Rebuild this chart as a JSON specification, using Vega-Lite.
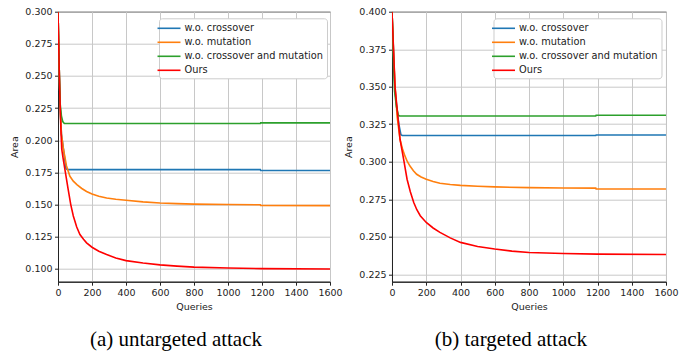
{
  "$schema": "https://vega.github.io/schema/vega-lite/v6.json",
  "padding": {"left": 9, "top": 5.7, "right": 5, "bottom": 0},
  "bounds": "flush",
  "spacing": 62,
  "config": {
    "font": "DejaVu Sans",
    "view": {"stroke": "#222", "strokeWidth": 1},
    "axis": {
      "labelFont": "DejaVu Sans", "labelFontSize": 9.5, "labelColor": "#222",
      "titleFont": "DejaVu Sans", "titleFontSize": 9.5, "titleFontWeight": "normal", "titleColor": "#222",
      "domainColor": "#222", "tickColor": "#222", "tickSize": 3.5,
      "gridColor": "#c8c8c8", "gridWidth": 1, "labelPadding": 2.5
    },
    "legend": {
      "labelFont": "DejaVu Sans", "labelFontSize": 9.8, "labelColor": "#222",
      "symbolType": "M-2,0H2", "symbolSize": 132, "symbolStrokeWidth": 1.6, "symbolFillColor": "transparent",
      "fillColor": "#ffffff", "strokeColor": "#cccccc", "cornerRadius": 3,
      "padding": 3, "rowPadding": 2, "labelOffset": 8.55, "titlePadding": 0
    },
    "title": {"font": "Liberation Serif", "fontSize": 21, "fontWeight": "normal", "color": "#000", "orient": "bottom", "anchor": "middle", "offset": 18, "frame": "bounds"}
  },
  "resolve": {"scale": {"color": "independent"}, "legend": {"color": "independent"}},
  "hconcat": [
    {
      "title": "(a) untargeted attack",
      "width": 272,
      "height": 270,
      "data": {"values": [
        {"s":"w.o. crossover","q":0,"v":0.300},{"s":"w.o. crossover","q":4,"v":0.275},{"s":"w.o. crossover","q":8,"v":0.250},{"s":"w.o. crossover","q":13,"v":0.225},{"s":"w.o. crossover","q":20,"v":0.205},{"s":"w.o. crossover","q":30,"v":0.195},{"s":"w.o. crossover","q":40,"v":0.185},{"s":"w.o. crossover","q":47,"v":0.178},{"s":"w.o. crossover","q":55,"v":0.1772},{"s":"w.o. crossover","q":1190,"v":0.1772},{"s":"w.o. crossover","q":1192,"v":0.1765},{"s":"w.o. crossover","q":1600,"v":0.1765},
        {"s":"w.o. mutation","q":0,"v":0.300},{"s":"w.o. mutation","q":4,"v":0.275},{"s":"w.o. mutation","q":8,"v":0.250},{"s":"w.o. mutation","q":13,"v":0.225},{"s":"w.o. mutation","q":20,"v":0.205},{"s":"w.o. mutation","q":32,"v":0.193},{"s":"w.o. mutation","q":50,"v":0.180},{"s":"w.o. mutation","q":70,"v":0.172},{"s":"w.o. mutation","q":90,"v":0.1682},{"s":"w.o. mutation","q":111,"v":0.1655},{"s":"w.o. mutation","q":140,"v":0.1625},{"s":"w.o. mutation","q":168,"v":0.1602},{"s":"w.o. mutation","q":200,"v":0.1582},{"s":"w.o. mutation","q":240,"v":0.1565},{"s":"w.o. mutation","q":286,"v":0.1551},{"s":"w.o. mutation","q":340,"v":0.1541},{"s":"w.o. mutation","q":400,"v":0.1533},{"s":"w.o. mutation","q":500,"v":0.1521},{"s":"w.o. mutation","q":600,"v":0.1512},{"s":"w.o. mutation","q":700,"v":0.1507},{"s":"w.o. mutation","q":800,"v":0.1503},{"s":"w.o. mutation","q":1000,"v":0.1500},{"s":"w.o. mutation","q":1190,"v":0.1498},{"s":"w.o. mutation","q":1192,"v":0.1493},{"s":"w.o. mutation","q":1600,"v":0.1492},
        {"s":"w.o. crossover and mutation","q":0,"v":0.300},{"s":"w.o. crossover and mutation","q":4,"v":0.275},{"s":"w.o. crossover and mutation","q":8,"v":0.250},{"s":"w.o. crossover and mutation","q":13,"v":0.228},{"s":"w.o. crossover and mutation","q":20,"v":0.219},{"s":"w.o. crossover and mutation","q":28,"v":0.2145},{"s":"w.o. crossover and mutation","q":37,"v":0.2131},{"s":"w.o. crossover and mutation","q":1190,"v":0.2130},{"s":"w.o. crossover and mutation","q":1192,"v":0.2135},{"s":"w.o. crossover and mutation","q":1600,"v":0.2135},
        {"s":"Ours","q":0,"v":0.300},{"s":"Ours","q":4,"v":0.275},{"s":"Ours","q":8,"v":0.250},{"s":"Ours","q":13,"v":0.225},{"s":"Ours","q":18,"v":0.205},{"s":"Ours","q":22,"v":0.193},{"s":"Ours","q":30,"v":0.186},{"s":"Ours","q":41,"v":0.177},{"s":"Ours","q":60,"v":0.1616},{"s":"Ours","q":75,"v":0.150},{"s":"Ours","q":90,"v":0.1411},{"s":"Ours","q":110,"v":0.1325},{"s":"Ours","q":129,"v":0.1267},{"s":"Ours","q":150,"v":0.1230},{"s":"Ours","q":168,"v":0.1202},{"s":"Ours","q":200,"v":0.1168},{"s":"Ours","q":240,"v":0.1137},{"s":"Ours","q":286,"v":0.1111},{"s":"Ours","q":340,"v":0.1085},{"s":"Ours","q":400,"v":0.1064},{"s":"Ours","q":500,"v":0.1045},{"s":"Ours","q":600,"v":0.1031},{"s":"Ours","q":700,"v":0.1021},{"s":"Ours","q":800,"v":0.1013},{"s":"Ours","q":1000,"v":0.1006},{"s":"Ours","q":1200,"v":0.1002},{"s":"Ours","q":1600,"v":0.0999}
      ]},
      "mark": {"type": "line", "strokeWidth": 1.6, "clip": true},
      "encoding": {
        "x": {"field": "q", "type": "quantitative", "title": "Queries",
              "scale": {"domain": [0, 1600], "nice": false, "zero": false},
              "axis": {"values": [0,200,400,600,800,1000,1200,1400,1600], "format": "d", "labelOverlap": false, "labelFlush": false, "labelBound": false, "titlePadding": 4}},
        "y": {"field": "v", "type": "quantitative", "title": "Area",
              "scale": {"domain": [0.09, 0.30], "nice": false, "zero": false},
              "axis": {"values": [0.100,0.125,0.150,0.175,0.200,0.225,0.250,0.275,0.300], "format": ".3f", "labelOverlap": false, "labelFlush": false, "titlePadding": 5}},
        "color": {"field": "s", "type": "nominal",
                  "scale": {"domain": ["w.o. crossover","w.o. mutation","w.o. crossover and mutation","Ours"], "range": ["#1f77b4","#ff7f0e","#2ca02c","#ff0000"]},
                  "legend": {"title": null, "orient": "none", "legendX": 101, "legendY": 6.6}}
      }
    },
    {
      "title": "(b) targeted attack",
      "width": 274,
      "height": 270,
      "data": {"values": [
        {"s":"w.o. crossover","q":0,"v":0.400},{"s":"w.o. crossover","q":5,"v":0.385},{"s":"w.o. crossover","q":10,"v":0.370},{"s":"w.o. crossover","q":15,"v":0.355},{"s":"w.o. crossover","q":20,"v":0.345},{"s":"w.o. crossover","q":30,"v":0.334},{"s":"w.o. crossover","q":40,"v":0.325},{"s":"w.o. crossover","q":52,"v":0.318},{"s":"w.o. crossover","q":60,"v":0.3175},{"s":"w.o. crossover","q":1190,"v":0.3175},{"s":"w.o. crossover","q":1192,"v":0.3178},{"s":"w.o. crossover","q":1600,"v":0.3178},
        {"s":"w.o. mutation","q":0,"v":0.400},{"s":"w.o. mutation","q":5,"v":0.385},{"s":"w.o. mutation","q":10,"v":0.370},{"s":"w.o. mutation","q":18,"v":0.350},{"s":"w.o. mutation","q":30,"v":0.330},{"s":"w.o. mutation","q":47,"v":0.3148},{"s":"w.o. mutation","q":60,"v":0.3090},{"s":"w.o. mutation","q":76,"v":0.3037},{"s":"w.o. mutation","q":90,"v":0.3000},{"s":"w.o. mutation","q":105,"v":0.2971},{"s":"w.o. mutation","q":125,"v":0.2940},{"s":"w.o. mutation","q":144,"v":0.2916},{"s":"w.o. mutation","q":170,"v":0.2898},{"s":"w.o. mutation","q":200,"v":0.2883},{"s":"w.o. mutation","q":240,"v":0.2868},{"s":"w.o. mutation","q":280,"v":0.2856},{"s":"w.o. mutation","q":340,"v":0.2848},{"s":"w.o. mutation","q":400,"v":0.2842},{"s":"w.o. mutation","q":500,"v":0.2836},{"s":"w.o. mutation","q":600,"v":0.2832},{"s":"w.o. mutation","q":800,"v":0.2827},{"s":"w.o. mutation","q":1000,"v":0.2825},{"s":"w.o. mutation","q":1190,"v":0.2824},{"s":"w.o. mutation","q":1192,"v":0.2818},{"s":"w.o. mutation","q":1600,"v":0.2818},
        {"s":"w.o. crossover and mutation","q":0,"v":0.400},{"s":"w.o. crossover and mutation","q":5,"v":0.385},{"s":"w.o. crossover and mutation","q":10,"v":0.362},{"s":"w.o. crossover and mutation","q":15,"v":0.347},{"s":"w.o. crossover and mutation","q":26,"v":0.3366},{"s":"w.o. crossover and mutation","q":37,"v":0.3310},{"s":"w.o. crossover and mutation","q":45,"v":0.3305},{"s":"w.o. crossover and mutation","q":1190,"v":0.3305},{"s":"w.o. crossover and mutation","q":1192,"v":0.3310},{"s":"w.o. crossover and mutation","q":1600,"v":0.3310},
        {"s":"Ours","q":0,"v":0.400},{"s":"Ours","q":9,"v":0.375},{"s":"Ours","q":17.5,"v":0.350},{"s":"Ours","q":30,"v":0.335},{"s":"Ours","q":47,"v":0.3148},{"s":"Ours","q":68,"v":0.3015},{"s":"Ours","q":88,"v":0.2883},{"s":"Ours","q":107,"v":0.2800},{"s":"Ours","q":127,"v":0.2728},{"s":"Ours","q":145,"v":0.2680},{"s":"Ours","q":165,"v":0.2640},{"s":"Ours","q":200,"v":0.2595},{"s":"Ours","q":240,"v":0.2558},{"s":"Ours","q":280,"v":0.2529},{"s":"Ours","q":340,"v":0.2492},{"s":"Ours","q":400,"v":0.2462},{"s":"Ours","q":500,"v":0.2435},{"s":"Ours","q":600,"v":0.2418},{"s":"Ours","q":700,"v":0.2404},{"s":"Ours","q":800,"v":0.2395},{"s":"Ours","q":1000,"v":0.2388},{"s":"Ours","q":1200,"v":0.2384},{"s":"Ours","q":1600,"v":0.2381}
      ]},
      "mark": {"type": "line", "strokeWidth": 1.6, "clip": true},
      "encoding": {
        "x": {"field": "q", "type": "quantitative", "title": "Queries",
              "scale": {"domain": [0, 1600], "nice": false, "zero": false},
              "axis": {"values": [0,200,400,600,800,1000,1200,1400,1600], "format": "d", "labelOverlap": false, "labelFlush": false, "labelBound": false, "titlePadding": 4}},
        "y": {"field": "v", "type": "quantitative", "title": "Area",
              "scale": {"domain": [0.22, 0.40], "nice": false, "zero": false},
              "axis": {"values": [0.225,0.250,0.275,0.300,0.325,0.350,0.375,0.400], "format": ".3f", "labelOverlap": false, "labelFlush": false, "titlePadding": 5}},
        "color": {"field": "s", "type": "nominal",
                  "scale": {"domain": ["w.o. crossover","w.o. mutation","w.o. crossover and mutation","Ours"], "range": ["#1f77b4","#ff7f0e","#2ca02c","#ff0000"]},
                  "legend": {"title": null, "orient": "none", "legendX": 101.5, "legendY": 6.6}}
      }
    }
  ]
}
